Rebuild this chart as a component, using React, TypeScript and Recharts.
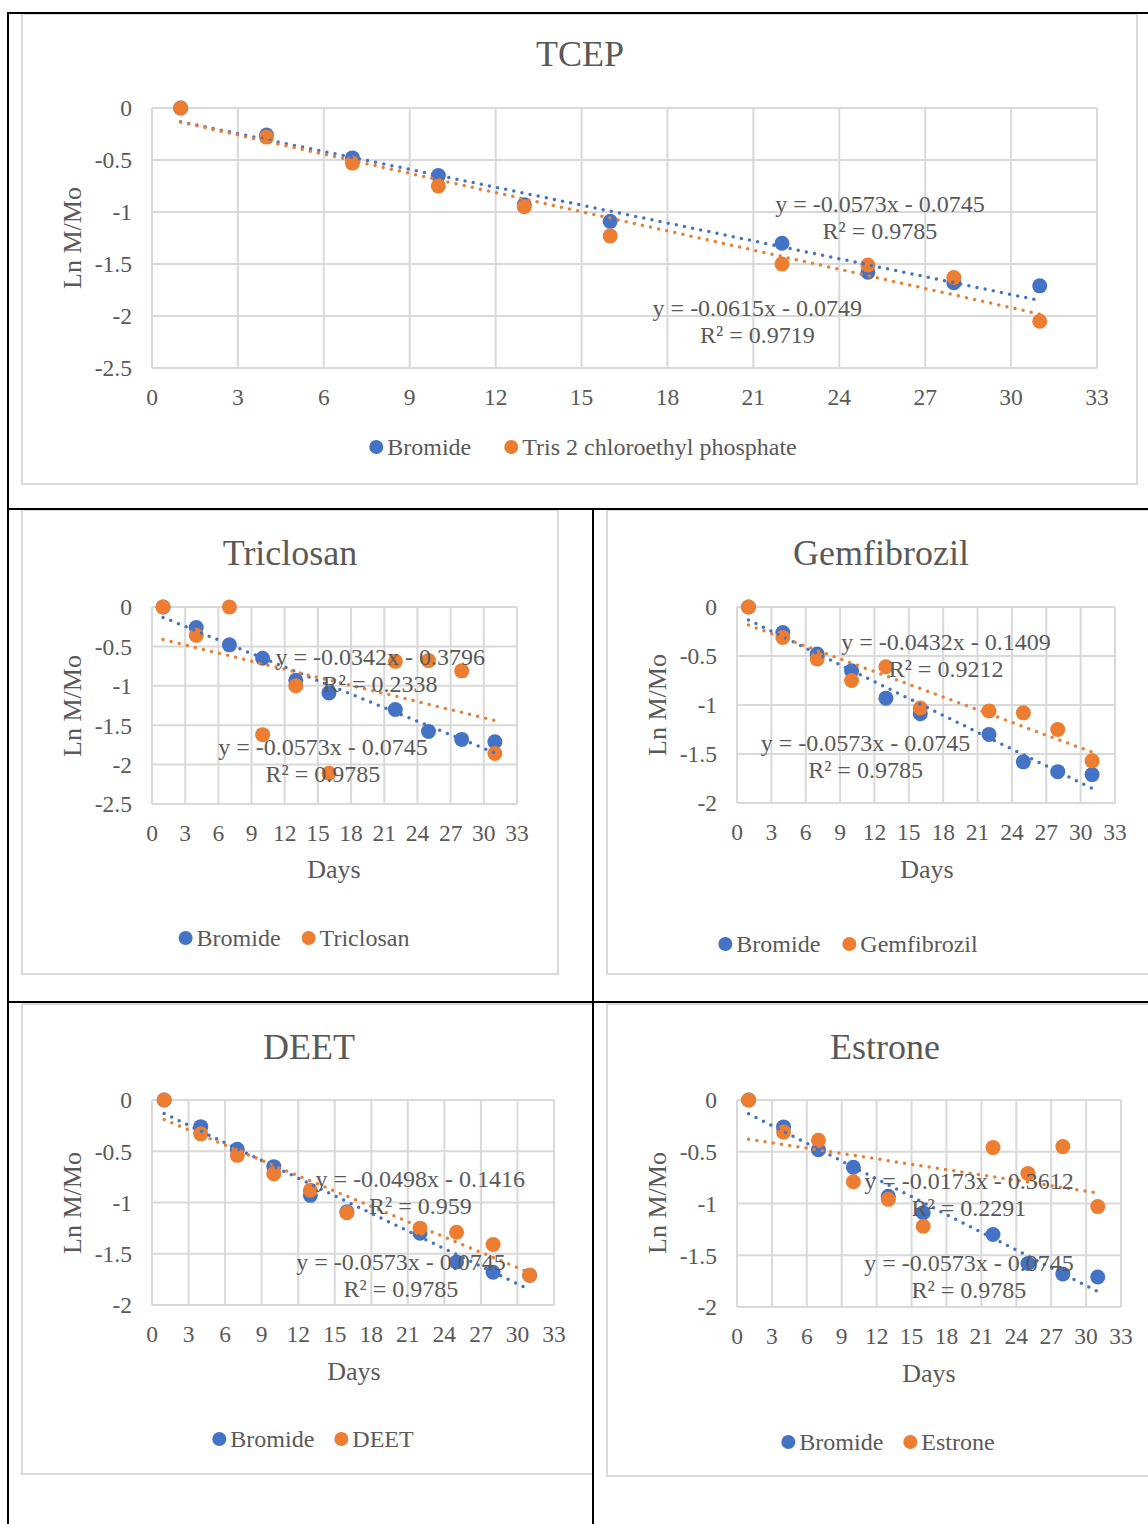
import React from "react";
import { ScatterChart, Scatter, XAxis, YAxis, CartesianGrid } from "recharts";

// Gün (x) değerleri, tüm grafiklerde ortak
const days = [1, 4, 7, 10, 13, 16, 22, 25, 28, 31];

// Ln M/Mo değerleri
const bromide = [0, -0.26, -0.48, -0.65, -0.93, -1.09, -1.3, -1.58, -1.68, -1.71];
const tcep = [0, -0.28, -0.53, -0.75, -0.95, -1.23, -1.5, -1.51, -1.63, -2.05];
const triclosan = [0, -0.36, 0, -1.62, -1.0, -2.11, -0.69, -0.68, -0.81, -1.86];
const gemfibrozil = [0, -0.31, -0.53, -0.75, -0.61, -1.03, -1.06, -1.08, -1.25, -1.57];
const deet = [0, -0.33, -0.54, -0.72, -0.88, -1.1, -1.25, -1.29, -1.41, -1.71];
const estrone = [0, -0.31, -0.39, -0.79, -0.96, -1.22, -0.46, -0.71, -0.45, -1.03];

// Trend çizgisi denklemleri: [eğim, kesişim, R²]
const bromideFit = [-0.0573, -0.0745, 0.9785];
const tcepFit = [-0.0615, -0.0749, 0.9719];
const triclosanFit = [-0.0342, -0.3796, 0.2338];
const gemfibrozilFit = [-0.0432, -0.1409, 0.9212];
const deetFit = [-0.0498, -0.1416, 0.959];
const estroneFit = [-0.0173, -0.3612, 0.2291];

const xTicks = [0, 3, 6, 9, 12, 15, 18, 21, 24, 27, 30, 33];
const yTicksDeep = [0, -0.5, -1, -1.5, -2, -2.5];
const yTicksShallow = [0, -0.5, -1, -1.5, -2];

const BLUE = "#4472C4";
const ORANGE = "#ED7D31";
const TEXT = "#595959";
const GRID = "#d9d9d9";
const FONT = "Liberation Serif, Times New Roman, serif";

type Panel = {
  title: string;
  name: string;
  values: number[];
  fit: number[];
  yTicks: number[];
  box: { x: number; y: number; w: number; h: number };
  plot: { l: number; t: number; r: number; b: number };
  titleAt: [number, number];
  yLabelAt: [number, number];
  daysAt: [number, number] | null;
  legend: { cx: number; y: number; gap: number };
  eqBromide: [number, number];
  eqOther: [number, number];
};

const PANELS: Panel[] = [
  {
    title: "TCEP",
    name: "Tris 2 chloroethyl phosphate",
    values: tcep,
    fit: tcepFit,
    yTicks: yTicksDeep,
    box: { x: 21, y: 13, w: 1117, h: 472 },
    plot: { l: 152, t: 108, r: 1097, b: 368 },
    titleAt: [580, 54],
    yLabelAt: [73, 238],
    daysAt: null,
    legend: { cx: 583, y: 447, gap: 33 },
    eqBromide: [25.42, -0.922],
    eqOther: [21.14, -1.925],
  },
  {
    title: "Triclosan",
    name: "Triclosan",
    values: triclosan,
    fit: triclosanFit,
    yTicks: yTicksDeep,
    box: { x: 21, y: 509, w: 538, h: 466 },
    plot: { l: 152, t: 607, r: 517, b: 804 },
    titleAt: [290, 553],
    yLabelAt: [73, 706],
    daysAt: [334, 870],
    legend: { cx: 294, y: 938, gap: 21 },
    eqBromide: [15.46, -1.778],
    eqOther: [20.63, -0.634],
  },
  {
    title: "Gemfibrozil",
    name: "Gemfibrozil",
    values: gemfibrozil,
    fit: gemfibrozilFit,
    yTicks: yTicksShallow,
    box: { x: 606, y: 509, w: 560, h: 466 },
    plot: { l: 737, t: 607, r: 1115, b: 803 },
    titleAt: [881, 553],
    yLabelAt: [658, 705],
    daysAt: [927, 870],
    legend: { cx: 848, y: 944, gap: 22 },
    eqBromide: [11.22, -1.383],
    eqOther: [18.25, -0.356],
  },
  {
    title: "DEET",
    name: "DEET",
    values: deet,
    fit: deetFit,
    yTicks: yTicksShallow,
    box: { x: 21, y: 1003, w: 573, h: 472 },
    plot: { l: 152, t: 1100, r: 554, b: 1305 },
    titleAt: [309, 1047],
    yLabelAt: [73, 1203],
    daysAt: [354, 1372],
    legend: { cx: 313, y: 1439, gap: 20 },
    eqBromide: [20.44, -1.581],
    eqOther: [22.03, -0.773],
  },
  {
    title: "Estrone",
    name: "Estrone",
    values: estrone,
    fit: estroneFit,
    yTicks: yTicksShallow,
    box: { x: 606, y: 1003, w: 560, h: 474 },
    plot: { l: 737, t: 1100, r: 1121, b: 1307 },
    titleAt: [885, 1047],
    yLabelAt: [658, 1203],
    daysAt: [929, 1374],
    legend: { cx: 888, y: 1442, gap: 20 },
    eqBromide: [19.93, -1.578],
    eqOther: [19.93, -0.781],
  },
];

function toPoints(vals: number[]) {
  return days.map((d, i) => ({ x: d, y: vals[i] }));
}

// Denklemden trend çizgisinin iki uç noktası (ilk ve son gün)
function trendPoints(fit: number[]) {
  const first = days[0];
  const last = days[days.length - 1];
  return [
    { x: first, y: fit[0] * first + fit[1] },
    { x: last, y: fit[0] * last + fit[1] },
  ];
}

function eqText(fit: number[]) {
  const sign = fit[1] < 0 ? "-" : "+";
  return [`y = ${fit[0]}x ${sign} ${Math.abs(fit[1])}`, `R² = ${fit[2]}`];
}

function Dot(color: string) {
  return (p: any) => <circle cx={p.cx} cy={p.cy} r={7.5} fill={color} />;
}

function EqShape(lines: string[]) {
  return (p: any) => (
    <g fontFamily={FONT} fontSize={24} fill={TEXT}>
      <text x={p.cx} y={p.cy} textAnchor="middle" dominantBaseline="central">
        {lines[0]}
      </text>
      <text x={p.cx} y={p.cy + 27} textAnchor="middle" dominantBaseline="central">
        {lines[1]}
      </text>
    </g>
  );
}

const trendLine = (color: string) => ({
  stroke: color,
  strokeWidth: 3.5,
  strokeDasharray: "0 8.3",
  strokeLinecap: "round" as const,
});

function Chart({ p }: { p: Panel }) {
  const yw = 60;
  const xh = 30;
  const margin = {
    top: p.plot.t - p.box.y,
    left: p.plot.l - p.box.x - yw,
    right: p.box.x + p.box.w - p.plot.r,
    bottom: p.box.y + p.box.h - p.plot.b - xh,
  };
  const tick = { fill: TEXT, fontSize: 23.5, fontFamily: FONT };
  const yMin = p.yTicks[p.yTicks.length - 1];
  const abs = (x: number, y: number): React.CSSProperties => ({
    position: "absolute",
    left: x,
    top: y,
    transform: "translate(-50%, -50%)",
    whiteSpace: "nowrap",
    lineHeight: 1,
    color: TEXT,
    fontFamily: FONT,
  });

  return (
    <>
      <div
        style={{
          position: "absolute",
          left: p.box.x,
          top: p.box.y,
          width: p.box.w,
          height: p.box.h,
          border: `2px solid ${GRID}`,
          boxSizing: "border-box",
        }}
      />
      <div style={{ position: "absolute", left: p.box.x, top: p.box.y, fontFamily: FONT }}>
        <ScatterChart
          width={p.box.w}
          height={p.box.h}
          margin={margin}
          style={{ fontFamily: FONT }}
        >
          <CartesianGrid stroke={GRID} strokeWidth={2} />
          <XAxis
            type="number"
            dataKey="x"
            domain={[0, 33]}
            ticks={xTicks}
            interval={0}
            height={xh}
            axisLine={false}
            tickLine={false}
            tickSize={0}
            tickMargin={20}
            tick={tick}
          />
          <YAxis
            type="number"
            dataKey="y"
            domain={[yMin, 0]}
            ticks={p.yTicks}
            interval={0}
            width={yw}
            axisLine={false}
            tickLine={false}
            tickSize={0}
            tickMargin={20}
            tick={tick}
          />
          <Scatter data={toPoints(bromide)} shape={Dot(BLUE)} isAnimationActive={false} />
          <Scatter data={toPoints(p.values)} shape={Dot(ORANGE)} isAnimationActive={false} />
          <Scatter
            data={trendPoints(bromideFit)}
            line={trendLine(BLUE)}
            shape={() => <g />}
            isAnimationActive={false}
          />
          <Scatter
            data={trendPoints(p.fit)}
            line={trendLine(ORANGE)}
            shape={() => <g />}
            isAnimationActive={false}
          />
          <Scatter
            data={[{ x: p.eqOther[0], y: p.eqOther[1] }]}
            shape={EqShape(eqText(p.fit))}
            isAnimationActive={false}
          />
          <Scatter
            data={[{ x: p.eqBromide[0], y: p.eqBromide[1] }]}
            shape={EqShape(eqText(bromideFit))}
            isAnimationActive={false}
          />
        </ScatterChart>
      </div>

      <div style={{ ...abs(p.titleAt[0], p.titleAt[1]), fontSize: 36 }}>{p.title}</div>
      <div
        style={{
          ...abs(p.yLabelAt[0], p.yLabelAt[1]),
          fontSize: 26,
          transform: "translate(-50%, -50%) rotate(-90deg)",
        }}
      >
        Ln M/Mo
      </div>
      {p.daysAt && (
        <div style={{ ...abs(p.daysAt[0], p.daysAt[1]), fontSize: 26 }}>Days</div>
      )}
      <div
        style={{
          ...abs(p.legend.cx, p.legend.y),
          fontSize: 24,
          display: "flex",
          alignItems: "center",
          gap: p.legend.gap,
        }}
      >
        {[
          { label: "Bromide", color: BLUE },
          { label: p.name, color: ORANGE },
        ].map((it) => (
          <div key={it.label} style={{ display: "flex", alignItems: "center" }}>
            <span
              style={{
                width: 14,
                height: 14,
                borderRadius: 7,
                background: it.color,
                marginRight: 4,
                display: "inline-block",
              }}
            />
            <span>{it.label}</span>
          </div>
        ))}
      </div>
    </>
  );
}

export default function App() {
  const line = (l: number, t: number, w: number, h: number) => (
    <div style={{ position: "absolute", left: l, top: t, width: w, height: h, background: "#000" }} />
  );
  return (
    <div
      style={{
        position: "absolute",
        left: 0,
        top: 0,
        width: 1148,
        height: 1524,
        overflow: "hidden",
        background: "#fff",
        fontFamily: FONT,
      }}
    >
      {PANELS.map((p) => (
        <Chart key={p.title} p={p} />
      ))}
      {/* Tablo çizgileri */}
      {line(7, 12, 1141, 2)}
      {line(7, 12, 2, 1512)}
      {line(7, 508, 1141, 2)}
      {line(7, 1001, 1141, 2)}
      {line(592, 508, 2, 1016)}
    </div>
  );
}
